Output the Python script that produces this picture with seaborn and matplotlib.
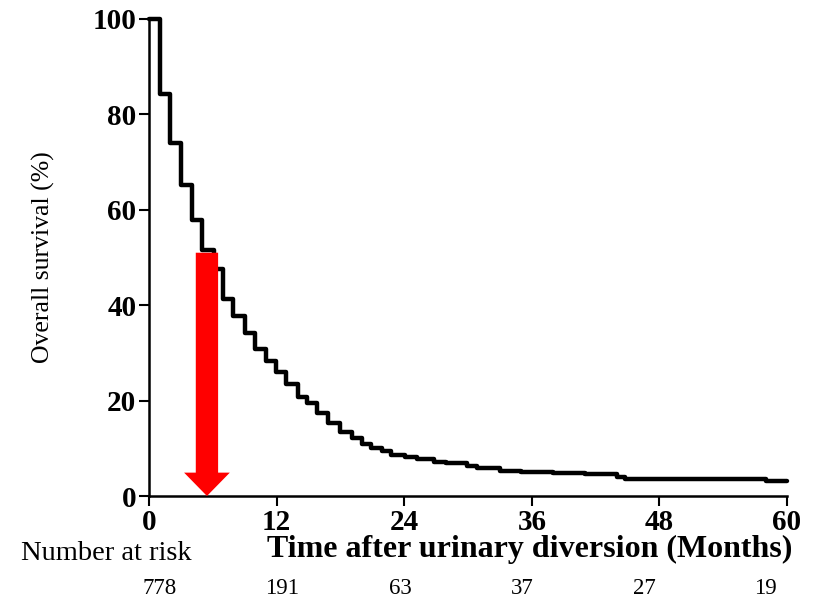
import pandas as pd
import matplotlib.pyplot as plt
import seaborn as sns
from matplotlib.patches import FancyArrow

# Kaplan-Meier steps (months, survival %)
months = [0, 1, 2, 3, 4, 5, 6.1, 7, 7.9, 9, 10, 11, 11.9, 12.9, 14, 14.9,
          15.8, 16.8, 18, 19.1, 20, 20.9, 21.9, 22.8, 24.1, 25.2, 26.8, 27.9,
          29.9, 30.8, 33, 35, 38, 41, 44, 44.8, 49, 58, 60]
survival = [100, 84.3, 74, 65.2, 57.9, 51.6, 47.5, 41.2, 37.7, 34.2, 30.8,
            28.3, 26.1, 23.4, 20.8, 19.4, 17.5, 15.2, 13.5, 12.1, 11.0, 10.0,
            9.5, 8.7, 8.1, 7.7, 7.2, 6.9, 6.3, 5.9, 5.3, 5.1, 4.9, 4.6, 4.0,
            3.6, 3.5, 3.2, 3.2]

x_ticks = [0, 12, 24, 36, 48, 60]
y_ticks = [0, 20, 40, 60, 80, 100]
at_risk = ['778', '191', '63', '37', '27', '19']
at_risk_x = [1.0, 12.5, 23.6, 35.1, 46.6, 58.0]

median_time = 5.45
median_surv = 51

df = pd.DataFrame({'months': months, 'survival': survival})

sns.set_style("ticks")
plt.rcParams['font.family'] = ['Liberation Serif', 'DejaVu Serif']
plt.rcParams['text.color'] = 'black'
plt.rcParams['axes.labelcolor'] = 'black'
plt.rcParams['xtick.color'] = 'black'
plt.rcParams['ytick.color'] = 'black'

fig = plt.figure(figsize=(8.2, 6.01), dpi=100)
ax = fig.add_axes([0.1817, 0.1747, 0.7781, 0.7937])

sns.lineplot(x='months', y='survival', data=df, drawstyle='steps-post',
             color='black', linewidth=3.2, ax=ax, clip_on=False)

arrow = FancyArrow(median_time, median_surv, 0, -median_surv, width=2.1,
                   head_width=4.3, head_length=4.9, length_includes_head=True,
                   color='red', linewidth=0, zorder=3)
ax.add_patch(arrow)

ax.set_xlim(0, 60)
ax.set_ylim(0, 100)
ax.set_xticks(x_ticks)
ax.set_yticks(y_ticks)
ax.set_xticklabels([str(t) for t in x_ticks], fontsize=21, fontweight='bold')
ax.set_yticklabels([str(t) for t in y_ticks], fontsize=21, fontweight='bold')
ax.tick_params(axis='both', length=7, width=1.5, color='black', pad=2)
for side in ['left', 'bottom']:
    ax.spines[side].set_linewidth(1.8)
    ax.spines[side].set_color('black')
sns.despine(ax=ax)

ax.set_ylabel('Overall survival (%)', fontsize=18.5)
ax.yaxis.set_label_coords(-0.147, 0.5)
ax.set_xlabel('Time after urinary diversion (Months)', fontsize=23,
              fontweight='bold', va='center')
ax.xaxis.set_label_coords(0.597, -0.113)

fig.text(106 / 820, 1 - 553 / 601, 'Number at risk', fontsize=20.5,
         ha='center', va='center')
for xv, lab in zip(at_risk_x, at_risk):
    ax.text(xv, -19.4, lab, fontsize=16.5, ha='center', va='center')

fig.savefig('out.png', dpi=100)
